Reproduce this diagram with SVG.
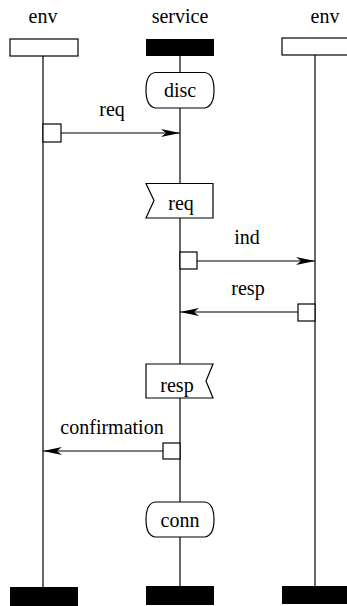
<svg xmlns="http://www.w3.org/2000/svg" width="347" height="606" viewBox="0 0 347 606">
<style>
text{font-family:"Liberation Serif","Times New Roman",serif;font-size:20px;fill:#000;text-anchor:middle}
.ln{stroke:#000;stroke-width:1.2;fill:none}
.sh{stroke:#000;stroke-width:1.2;fill:#fff}
.blk{fill:#000}
</style>
<defs>
<marker id="ah" markerUnits="userSpaceOnUse" markerWidth="20" markerHeight="10" refX="19" refY="4" orient="auto">
<path d="M0,0 L19,4 L0,8 L5,4 Z" fill="#000"/>
</marker>
</defs>
<g id="lifelines">
<line class="ln" x1="43" y1="56" x2="43" y2="587"/>
<line class="ln" x1="180" y1="56" x2="180" y2="586"/>
<line class="ln" x1="315" y1="55" x2="315" y2="586"/>
</g>
<g id="env-left">
<text x="43" y="23">env</text>
<rect class="sh" x="10" y="39" width="68" height="17"/>
<rect class="blk" x="10" y="587" width="68" height="19"/>
</g>
<g id="service">
<text x="180" y="23">service</text>
<rect class="blk" x="146" y="39" width="68" height="17"/>
<rect class="blk" x="146" y="586" width="68" height="19"/>
</g>
<g id="env-right">
<text x="325" y="23">env</text>
<rect class="sh" x="282" y="38" width="68" height="17"/>
<rect class="blk" x="282" y="586" width="68" height="18"/>
</g>
<g id="disc">
<path class="sh" d="M155,72.5 H205 Q214,74 214,90 Q214,106 205,108 H155 Q146,106 146,90 Q146,74 155,72.5 Z"/>
<text x="180" y="97">disc</text>
</g>
<g id="req-in">
<path class="sh" d="M146,183.5 H213 V218 H146 L154,200.5 Z"/>
<text x="181" y="210">req</text>
</g>
<g id="resp-out">
<path class="sh" d="M146,364 H213 L206,381 L213,398 H146 Z"/>
<text x="177" y="392">resp</text>
</g>
<g id="conn">
<path class="sh" d="M155,502 H205 Q214,503.5 214,519.5 Q214,535.5 205,537 H155 Q146,535.5 146,519.5 Q146,503.5 155,502 Z"/>
<text x="180" y="527">conn</text>
</g>
<g id="timer-boxes">
<rect class="sh" x="43" y="124" width="18" height="18"/>
<rect class="sh" x="180" y="252" width="17" height="17"/>
<rect class="sh" x="298" y="304" width="17" height="17"/>
<rect class="sh" x="163" y="443" width="17" height="16"/>
</g>
<g id="connectors">
<line class="ln" x1="61" y1="133" x2="180" y2="133" marker-end="url(#ah)"/>
<text x="112" y="116">req</text>
<line class="ln" x1="197" y1="261" x2="315" y2="261" marker-end="url(#ah)"/>
<text x="247" y="244">ind</text>
<line class="ln" x1="298" y1="312" x2="180" y2="312" marker-end="url(#ah)"/>
<text x="248" y="295">resp</text>
<line class="ln" x1="163" y1="451" x2="43" y2="451" marker-end="url(#ah)"/>
<text x="112" y="434">confirmation</text>
</g>
</svg>
